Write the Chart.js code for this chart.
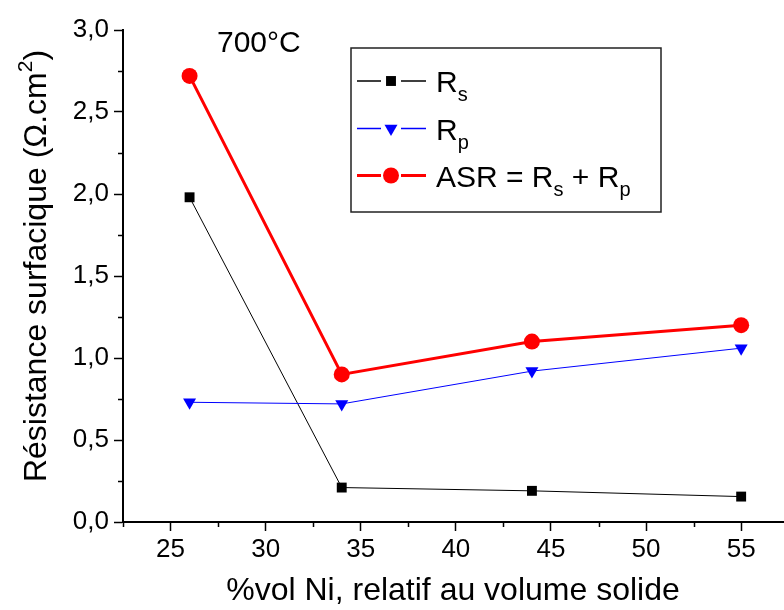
<!DOCTYPE html>
<html>
<head>
<meta charset="utf-8">
<script src="https://cdn.jsdelivr.net/npm/chart.js@4.4.1/dist/chart.umd.min.js"></script>
<style>html,body{margin:0;padding:0;background:#fff}</style>
</head>
<body>
<canvas id="myChart" width="784" height="610"></canvas>
<script>
// data
const nickel = [26, 34, 44, 55];
const rs = [1.98, 0.21, 0.19, 0.155];
const rp = [0.73, 0.72, 0.92, 1.06];
const asr = [2.72, 0.90, 1.10, 1.20];
const seriesNames = ['R_s', 'R_p', 'ASR = R_s + R_p'];
const tempLabel = '700°C';
const xTitle = '%vol Ni, relatif au volume solide';
const yTitle = 'Résistance surfacique (Ω.cm^2)';
const FONT = '"Liberation Sans", Arial, sans-serif';

const pts = (ys) => nickel.map((x, i) => ({x: x, y: ys[i]}));
const markers = [
    {style: 'rect', color: '#000000', line: 1, radius: 7, rot: 0},
    {style: 'triangle', color: '#0000ff', line: 1, radius: 7.5, rot: 180},
    {style: 'circle', color: '#ff0000', line: 3, radius: 8, rot: 0}
];

const data = {
    datasets: [rs, rp, asr].map((ys, i) => ({
        label: seriesNames[i],
        data: pts(ys),
        borderColor: markers[i].color,
        backgroundColor: markers[i].color,
        borderWidth: markers[i].line,
        pointStyle: markers[i].style,
        pointRadius: markers[i].radius,
        pointRotation: markers[i].rot,
        pointBorderWidth: 0,
        order: 3 - i,
        clip: false
    }))
};

// text with "_x" as subscript and "^x" as superscript
function richText(ctx, str, x, y, size) {
    const parts = str.split(/([_^]\w)/);
    parts.forEach((p) => {
        if (!p) return;
        let dy = 0, txt = p, fs = size;
        if (p[0] === '_') { txt = p.slice(1); fs = Math.round(size * 0.65); dy = size * 0.3; }
        else if (p[0] === '^') { txt = p.slice(1); fs = Math.round(size * 0.65); dy = -size * 0.45; }
        ctx.font = fs + 'px ' + FONT;
        ctx.fillText(txt, x, y + dy);
        x += ctx.measureText(txt).width;
    });
}
function richWidth(ctx, str, size) {
    let w = 0;
    str.split(/([_^]\w)/).forEach((p) => {
        if (!p) return;
        let txt = p, fs = size;
        if (p[0] === '_' || p[0] === '^') { txt = p.slice(1); fs = Math.round(size * 0.65); }
        ctx.font = fs + 'px ' + FONT;
        w += ctx.measureText(txt).width;
    });
    return w;
}

function drawMarker(ctx, m, x, y) {
    ctx.fillStyle = m.color;
    ctx.beginPath();
    if (m.style === 'rect') {
        const s = m.radius * Math.SQRT1_2;
        ctx.rect(x - s, y - s, 2 * s, 2 * s);
    } else if (m.style === 'triangle') {
        const r = m.radius;
        ctx.moveTo(x, y + r);
        ctx.lineTo(x - r * 0.866, y - r / 2);
        ctx.lineTo(x + r * 0.866, y - r / 2);
        ctx.closePath();
    } else {
        ctx.arc(x, y, m.radius, 0, Math.PI * 2);
    }
    ctx.fill();
}

const legendAndNote = {
    id: 'legendAndNote',
    afterDraw(chart) {
        const ctx = chart.ctx;
        ctx.save();
        // legend box
        ctx.strokeStyle = '#222';
        ctx.lineWidth = 1.5;
        ctx.strokeRect(351, 48, 310, 164);
        const rows = [81, 128.5, 175.5];
        ctx.textBaseline = 'alphabetic';
        rows.forEach((ry, i) => {
            const m = markers[i];
            ctx.strokeStyle = m.color;
            ctx.lineWidth = m.line === 3 ? 3 : 1.3;
            ctx.beginPath();
            ctx.moveTo(357, ry); ctx.lineTo(381, ry);
            ctx.moveTo(401, ry); ctx.lineTo(426, ry);
            ctx.stroke();
            drawMarker(ctx, m, 391, ry);
            ctx.fillStyle = '#000';
            richText(ctx, seriesNames[i], 436, ry + 11, 30);
        });
        // temperature note
        ctx.fillStyle = '#000';
        ctx.font = '30px ' + FONT;
        ctx.fillText(tempLabel, 217, 52);
        // y title, rotated, with superscript
        ctx.save();
        ctx.translate(46, 266);
        ctx.rotate(-Math.PI / 2);
        const w = richWidth(ctx, yTitle, 32);
        richText(ctx, yTitle, -w / 2, 0, 32);
        ctx.restore();
        // minor ticks, shorter than the major ones
        const {x, y} = chart.scales;
        ctx.strokeStyle = '#000';
        ctx.lineWidth = 1.5;
        ctx.beginPath();
        x.ticks.forEach(t => {
            if (t.value % 5 !== 0) {
                const px = Math.round(x.getPixelForValue(t.value)) + 0.5;
                ctx.moveTo(px, y.bottom); ctx.lineTo(px, y.bottom + 5);
            }
        });
        y.ticks.forEach(t => {
            if (t.value % 0.5 !== 0) {
                const py = Math.round(y.getPixelForValue(t.value)) + 0.5;
                ctx.moveTo(x.left, py); ctx.lineTo(x.left - 5, py);
            }
        });
        ctx.stroke();
        ctx.restore();
    }
};

const tickColor = (major) => (ctx) => (ctx.tick && major(ctx.tick.value)) ? '#000' : 'rgba(0,0,0,0)';

const config = {
    type: 'line',
    data,
    options: {
        responsive: false,
        animation: false,
        layout: {autoPadding: false, padding: {top: 30, right: 1, left: 0, bottom: 0}},
        scales: {
            x: {
                type: 'linear',
                min: 22.5,
                max: 57.2,
                ticks: {
                    stepSize: 2.5,
                    includeBounds: false,
                    autoSkip: false,
                    maxRotation: 0,
                    padding: 3,
                    color: '#000',
                    font: {family: FONT, size: 26},
                    callback: (v) => v % 5 === 0 ? String(v) : ''
                },
                grid: {drawOnChartArea: false, tickLength: 9, tickWidth: 1.5, tickColor: tickColor(v => v % 5 === 0)},
                border: {color: '#000', width: 2},
                title: {display: true, text: xTitle, color: '#000', font: {family: FONT, size: 32}, padding: 0},
                afterFit: (s) => { s.height = 88; s.paddingLeft = 0; s.paddingRight = 0; }
            },
            y: {
                min: 0,
                max: 3,
                ticks: {
                    stepSize: 0.25,
                    autoSkip: false,
                    padding: 5,
                    color: '#000',
                    font: {family: FONT, size: 26},
                    callback: (v) => v % 0.5 === 0 ? v.toFixed(1).replace('.', ',') : ''
                },
                grid: {drawOnChartArea: false, tickLength: 9, tickWidth: 1.5, tickColor: tickColor(v => v % 0.5 === 0)},
                border: {color: '#000', width: 2},
                title: {display: false},
                afterFit: (s) => { s.width = 123; s.paddingTop = 0; s.paddingBottom = 0; }
            }
        },
        plugins: {
            legend: {display: false},
            tooltip: {enabled: false}
        }
    },
    plugins: [legendAndNote]
};
const myChart = new Chart(document.getElementById('myChart'), config);
</script>
</body>
</html>
